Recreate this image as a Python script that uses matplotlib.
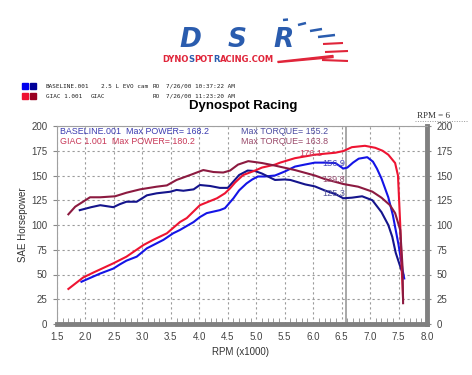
import matplotlib
matplotlib.use("Agg")
import matplotlib.pyplot as plt
import numpy as np

# ---------------- data ----------------
base_pwr_rpm = [1.93, 2.1, 2.26, 2.49, 2.6, 2.72, 2.9, 3.08, 3.37, 3.54, 3.66, 3.9, 4.01, 4.13, 4.36, 4.45,
                4.6, 4.7, 4.83, 4.93, 5.03, 5.15, 5.33, 5.5, 5.68, 5.85, 6.03, 6.2, 6.39, 6.53, 6.6, 6.7,
                6.8, 6.95, 7.05, 7.12, 7.2, 7.32, 7.4, 7.5, 7.57, 7.6]
base_pwr = [42.7, 47, 51, 56, 60, 64, 68, 76.5, 85, 91.6, 95, 103, 108, 112, 115, 117,
            127, 135, 142, 146, 149, 149, 150, 154, 159, 161, 163, 163, 162.6, 157, 158, 163,
            167, 168.5, 164, 157, 147, 128, 110, 80, 55, 46]

base_trq_rpm = [1.9, 2.1, 2.26, 2.49, 2.6, 2.72, 2.9, 3.08, 3.25, 3.49, 3.6, 3.72, 3.9, 4.01, 4.19, 4.36,
                4.5, 4.6, 4.7, 4.85, 4.98, 5.1, 5.33, 5.5, 5.6, 5.86, 6.03, 6.2, 6.4, 6.53, 6.68, 6.86,
                7.04, 7.2, 7.32, 7.39, 7.45, 7.53, 7.58]
base_trq = [115, 118, 120, 118, 121, 123.5, 123.5, 130, 132, 133.6, 135.4, 134.6, 136, 140.4, 139.4, 137.5,
            137.5, 144, 150.5, 155, 154.5, 152, 145.5, 146, 145.5, 141, 139, 135, 131, 127, 127.6, 129,
            125, 113, 100, 88, 72, 58, 50]

giac_pwr_rpm = [1.7, 1.96, 2.14, 2.49, 2.72, 3.02, 3.19, 3.43, 3.66, 3.78, 4.01, 4.31, 4.45, 4.54, 4.63,
                4.77, 4.98, 5.1, 5.33, 5.42, 5.68, 6.03, 6.2, 6.39, 6.53, 6.68, 6.91, 7.09, 7.22, 7.32,
                7.44, 7.49, 7.53, 7.56, 7.58]
giac_pwr = [35.4, 47, 52, 61.3, 68, 79.8, 85, 91.6, 103, 107, 120, 127, 132, 137, 143,
            150.5, 155, 158, 161, 163, 167.5, 171, 172, 173, 174.7, 178.6, 180, 178, 175, 171,
            162.6, 150, 100, 50, 25]

giac_trq_rpm = [1.7, 1.82, 2.08, 2.26, 2.52, 2.72, 2.96, 3.25, 3.43, 3.6, 3.84, 4.07, 4.25, 4.42, 4.54,
                4.68, 4.86, 5.1, 5.33, 5.68, 6.03, 6.2, 6.53, 6.79, 7.04, 7.2, 7.35, 7.44, 7.53, 7.57, 7.58]
giac_trq = [110.8, 118.5, 128, 128, 129, 132.6, 136, 138.7, 140, 145.5, 150.5, 155.5, 153.5, 153, 155,
            161, 164.5, 162.6, 160, 155.5, 150, 146.5, 141.4, 138.7, 133.7, 127.6, 120, 112, 95, 58, 21]

x_ticks = [1.5, 2.0, 2.5, 3.0, 3.5, 4.0, 4.5, 5.0, 5.5, 6.0, 6.5, 7.0, 7.5, 8.0]
y_ticks = [0, 25, 50, 75, 100, 125, 150, 175, 200]
cursor_rpm = 6.57
cursor_vals = ["176.1", "156.9", "139.8", "125.3"]

# ---------------- style ----------------
C_BP = "#1414e6"
C_BT = "#14148c"
C_GP = "#ee1432"
C_GT = "#8c1a40"
FONT = "Liberation Sans"

W, H = 472, 375
fig = plt.figure(figsize=(W / 100, H / 100), dpi=100)

def fx(px):
    return px / W

def fy(py):
    return 1 - py / H

# overlay axes in pixel coordinates (top-down)
ov = fig.add_axes([0, 0, 1, 1], zorder=0)
ov.set_xlim(0, W)
ov.set_ylim(H, 0)
ov.axis("off")

# main axes
L, R, T, B = 57, 427, 126, 324
ax = fig.add_axes([fx(L), fy(B), (R - L) / W, (B - T) / H], zorder=2)
ax.set_facecolor("white")

ax.plot(base_pwr_rpm, base_pwr, color=C_BP, lw=1.5, zorder=4)
ax.plot(base_trq_rpm, base_trq, color=C_BT, lw=1.5, zorder=4)
ax.plot(giac_pwr_rpm, giac_pwr, color=C_GP, lw=1.5, zorder=5)
ax.plot(giac_trq_rpm, giac_trq, color=C_GT, lw=1.5, zorder=5)

ax.set_xlim(1.5, 8.0)
ax.set_ylim(0, 200)
ax.set_xticks(x_ticks)
ax.set_xticklabels([f"{v:.1f}" for v in x_ticks])
ax.set_yticks(y_ticks)
ax.set_yticklabels([str(v) for v in y_ticks])
ax.set_xticks(np.arange(1.6, 8.0, 0.1), minor=True)
ax.grid(True, which="major", linestyle=(0, (2, 2.5)), color="#9a9a9a", lw=0.8, zorder=1)
ax.axvline(cursor_rpm, color="#a8a8a8", lw=1.4, zorder=2)

ax.tick_params(axis="both", which="major", labelsize=7, labelcolor="#444444", colors="#888888", length=3)
ax.tick_params(axis="x", which="major", pad=6, length=0)
ax.tick_params(axis="x", which="minor", direction="in", length=4, color="#999999", width=0.7)
ax.tick_params(axis="y", which="major", right=True, labelright=True, pad=4)
for lab in ax.get_xticklabels() + ax.get_yticklabels():
    lab.set_fontfamily(FONT)

for s in ["left", "top"]:
    ax.spines[s].set_color("#a0a0a0")
    ax.spines[s].set_linewidth(0.8)
for s in ["bottom", "right"]:
    ax.spines[s].set_color("#808080")
    ax.spines[s].set_linewidth(3.5)

ax.set_xlabel("RPM (x1000)", fontsize=7, family=FONT, color="#333333", labelpad=1)
ax.set_ylabel("SAE Horsepower", fontsize=7, family=FONT, color="#333333", labelpad=2)
ax.xaxis.set_label_coords(0.497, -0.115)

# in-plot annotations
def axpos(px, py):
    return ((px - L) / (R - L), (B - py) / (B - T))

tk = dict(family=FONT, transform=ax.transAxes, va="center", zorder=6)
ax.text(*axpos(60, 132), "BASELINE.001  Max POWER= 168.2", color="#3a3ab0", fontsize=6.4, **tk)
ax.text(*axpos(60, 142), "GIAC 1.001  Max POWER= 180.2", color="#c83858", fontsize=6.4, **tk)
ax.text(*axpos(241, 132), "Max TORQUE= 155.2", color="#4a4aa0", fontsize=6.4, **tk)
ax.text(*axpos(241, 142), "Max TORQUE= 163.8", color="#9a4a6a", fontsize=6.4, **tk)
cur_pos = [(322, 154), (345, 163), (345, 179), (345, 194)]
cur_col = ["#cc4466", "#4444bb", "#995577", "#555599"]
for v, (px, py), c in zip(cursor_vals, cur_pos, cur_col):
    ax.text(*axpos(px, py), v, color=c, ha="right", fontsize=6.6, **tk)

# title
fig.text(fx(243), fy(106), "Dynospot Racing", fontsize=9.5, weight="bold", family=FONT,
         ha="center", va="center", color="black")

# RPM = 6
fig.text(fx(417), fy(116), "RPM = 6", fontsize=6.5, family="Liberation Serif", ha="left", va="center", color="#333333")
ov.plot([415, 468], [121, 121], color="#999999", lw=0.7, ls=(0, (1, 1.5)))

# legend rows
ov.add_patch(plt.Rectangle((22, 83), 6, 6, color="#0000ee"))
ov.add_patch(plt.Rectangle((30, 83), 6, 6, color="#000099"))
ov.add_patch(plt.Rectangle((22, 93), 6, 6, color="#ee1133"))
ov.add_patch(plt.Rectangle((30, 93), 6, 6, color="#990022"))
lk = dict(fontsize=4.3, family="DejaVu Sans Mono", va="center", color="#222222")
ov.text(46, 86, "BASELINE.001", **lk)
ov.text(101, 86, "2.5 L EVO cam", **lk)
ov.text(153, 86, "RO", **lk)
ov.text(166, 86, "7/26/00 10:37:22 AM", **lk)
ov.text(46, 96, "GIAC 1.001", **lk)
ov.text(91, 96, "GIAC", **lk)
ov.text(153, 96, "RO", **lk)
ov.text(166, 96, "7/26/00 11:23:20 AM", **lk)

# logo
LOGO_BLUE = "#2a5cae"
LOGO_RED = "#e0253a"
for ch, px in zip("DSR", [190, 237, 284]):
    ov.text(px, 40, ch, fontsize=19, weight="bold", style="italic", family="DejaVu Sans",
            color=LOGO_BLUE, ha="center", va="center")
parts = [("DYNO", LOGO_RED), ("S", LOGO_BLUE), ("POT", LOGO_RED), ("R", LOGO_BLUE), ("ACING.COM", LOGO_RED)]
renderer = fig.canvas.get_renderer()
xx = 162.0
for txt, c in parts:
    t = ov.text(xx, 59, txt, fontsize=6, weight="bold", family="DejaVu Sans", color=c, va="center")
    bb = t.get_window_extent(renderer=renderer)
    xx += bb.width
for (x0, y0, x1, y1) in [(283, 20, 288, 19.5), (298, 25, 306, 23), (310, 31, 322, 29), (318, 37, 335, 35)]:
    ov.plot([x0, x1], [y0, y1], color=LOGO_BLUE, lw=1.8, solid_capstyle="butt")
for (x0, y0, x1, y1) in [(323, 44, 343, 43), (325, 52, 348, 51), (322, 60, 348, 61)]:
    ov.plot([x0, x1], [y0, y1], color=LOGO_RED, lw=1.5, solid_capstyle="butt")
ov.fill([278, 333, 333, 278], [61.5, 55.5, 57.5, 62.5], color=LOGO_RED)

fig.savefig("out.png", dpi=100, facecolor="white")
